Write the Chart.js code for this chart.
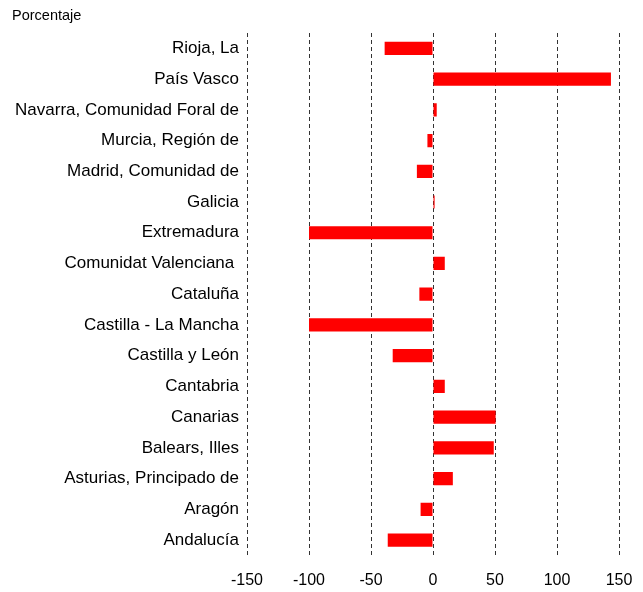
<!DOCTYPE html>
<html>
<head>
<meta charset="utf-8">
<script src="https://cdn.jsdelivr.net/npm/chart.js@4/dist/chart.umd.min.js"></script>
<style>
  html, body { margin: 0; padding: 0; background: #fff; }
  #wrap { width: 643px; height: 592px; position: relative; }
</style>
</head>
<body>
<div id="wrap"><canvas id="c" width="643" height="592"></canvas></div>
<script>
const categories = [
  "Rioja, La",
  "País Vasco",
  "Navarra, Comunidad Foral de",
  "Murcia, Región de",
  "Madrid, Comunidad de",
  "Galicia",
  "Extremadura",
  "Comunidat Valenciana ",
  "Cataluña",
  "Castilla - La Mancha",
  "Castilla y León",
  "Cantabria",
  "Canarias",
  "Balears, Illes",
  "Asturias, Principado de",
  "Aragón",
  "Andalucía"
];
const percentValues = [-39, 143.5, 3, -4.5, -13, 1.3, -100, 9.5, -11, -100, -32.5, 9.5, 50.5, 49, 16, -10, -36.5];
const xTicks = [-150, -100, -50, 0, 50, 100, 150];
const unitLabel = "Porcentaje";

const FONT = "'Liberation Sans', Arial, sans-serif";

const titlePlugin = {
  id: 'unitLabel',
  afterDraw(chart) {
    const ctx = chart.ctx;
    ctx.save();
    ctx.font = "14.5px " + FONT;
    ctx.fillStyle = "#000";
    ctx.textAlign = "left";
    ctx.textBaseline = "alphabetic";
    ctx.fillText(unitLabel, 12, 20);
    ctx.restore();
  }
};

new Chart(document.getElementById('c'), {
  type: 'bar',
  data: {
    labels: categories,
    datasets: [{
      data: percentValues,
      backgroundColor: '#FF0000',
      borderWidth: 0,
      barPercentage: 0.43,
      categoryPercentage: 1.0
    }]
  },
  options: {
    indexAxis: 'y',
    responsive: false,
    animation: false,
    layout: { padding: { top: 33, right: 24, bottom: 0, left: 0 } },
    plugins: { legend: { display: false }, tooltip: { enabled: false } },
    scales: {
      x: {
        min: -150,
        max: 150,
        afterBuildTicks(scale) { scale.ticks = xTicks.map(v => ({ value: v })); },
        afterFit(scale) {
          scale.height = 36.6;
          scale.paddingLeft = 0;
          scale.paddingRight = 0;
        },
        grid: {
          display: true,
          color: '#333333',
          lineWidth: 1,
          drawTicks: false
        },
        border: { display: false, dash: [4, 3] },
        ticks: {
          color: '#000',
          font: { family: FONT, size: 16 },
          padding: 16,
          maxRotation: 0
        }
      },
      y: {
        grid: { display: false, drawTicks: false },
        border: { display: false },
        afterFit(scale) { scale.width = 247; },
        ticks: {
          color: '#000',
          font: { family: FONT, size: 17 },
          padding: 8,
          autoSkip: false
        }
      }
    }
  },
  plugins: [titlePlugin]
});
</script>
</body>
</html>
